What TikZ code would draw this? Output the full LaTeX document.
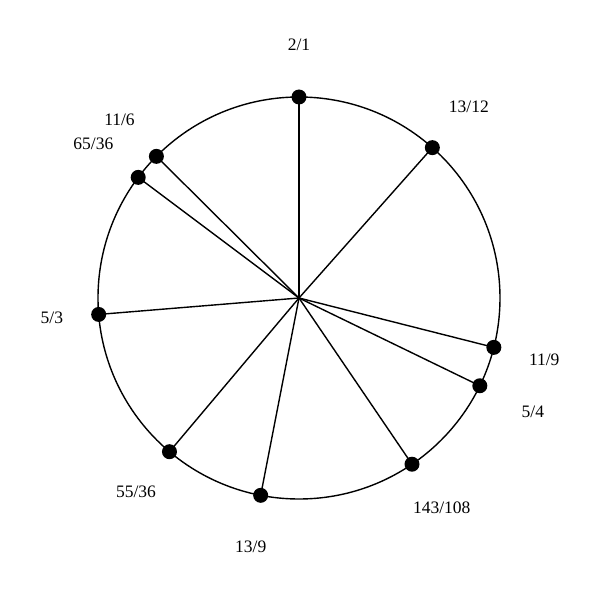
\documentclass[tikz,border=0pt]{standalone}
\usepackage{fontspec}
\setmainfont{Liberation Serif}

\begin{document}
\begin{tikzpicture}[x=1pt, y=1pt, line width=1.4pt, dot/.style={circle, fill, inner sep=0pt, minimum size=15pt}, ratio/.style={font=\fontsize{17.5}{20}\selectfont, inner sep=0pt}]

\useasboundingbox (-299,-302) rectangle (301,298);

\node[coordinate] (O) at (0,0) {};
\draw (O) circle (201);

\node[dot] (r21) at (90:201) {};
\node[dot] (r1312) at (48.43:201) {};
\node[dot] (r119) at (-14.22:201) {};
\node[dot] (r54) at (-25.89:201) {};
\node[dot] (r143108) at (-55.79:201) {};
\node[dot] (r139) at (-100.99:201) {};
\node[dot] (r5536) at (-130.12:201) {};
\node[dot] (r53) at (-175.31:201) {};
\node[dot] (r6536) at (143.12:201) {};
\node[dot] (r116) at (135.19:201) {};

\node[ratio] at (90:253) {2/1};
\node[ratio] at (48.43:256) {13/12};
\node[ratio] at (-14.22:253) {11/9};
\node[ratio] at (-25.89:260) {5/4};
\node[ratio] at (-55.79:254) {143/108};
\node[ratio] at (-100.99:253) {13/9};
\node[ratio] at (-130.12:253) {55/36};
\node[ratio] at (-175.31:248) {5/3};
\node[ratio] at (143.12:257) {65/36};
\node[ratio] at (135.19:253) {11/6};

\draw (O) -- (r21.center);
\draw (O) -- (r1312.center);
\draw (O) -- (r119.center);
\draw (O) -- (r54.center);
\draw (O) -- (r143108.center);
\draw (O) -- (r139.center);
\draw (O) -- (r5536.center);
\draw (O) -- (r53.center);
\draw (O) -- (r6536.center);
\draw (O) -- (r116.center);

\end{tikzpicture}
\end{document}
